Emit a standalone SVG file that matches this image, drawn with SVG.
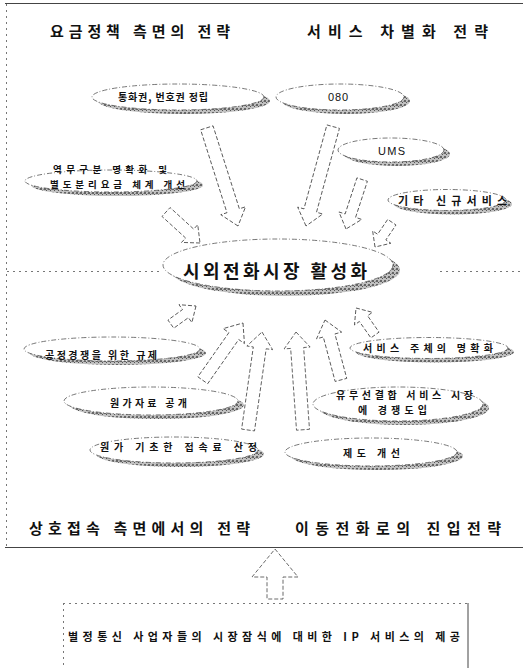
<svg xmlns="http://www.w3.org/2000/svg" width="523" height="668" viewBox="0 0 523 668">
<style>
.bg{fill:#fff}
.sh{fill:url(#hatch)}
.el{fill:#fff;stroke:#555;stroke-width:0.8;stroke-dasharray:5 2 1 2}
.t{font-family:"Noto Sans CJK KR","Noto Sans",sans-serif;font-weight:bold;fill:#111}
.ti{font-size:15px}
.s{font-size:10px}
.m{font-size:18px}
.lat{font-family:"Liberation Sans",Arial,sans-serif;font-weight:normal;font-size:11px;fill:#111}
.ar{fill:#fff;stroke:#444;stroke-width:0.8;stroke-dasharray:4 2}
.fr{fill:none;stroke:#444;stroke-width:1}
.dot{fill:none;stroke:#777;stroke-width:1;stroke-dasharray:2 4}
</style>
<defs>
<pattern id="hatch" width="4" height="4" patternUnits="userSpaceOnUse">
<rect width="4" height="4" fill="#c0c0c0"/>
<rect width="2" height="2" fill="#666"/>
<rect x="2" y="2" width="1" height="1" fill="#555"/>
<rect x="3" y="1" width="1" height="1" fill="#999"/>
</pattern>
</defs>
<rect class="bg" width="523" height="668"/>

<g id="frame">
<line class="fr" x1="5" y1="3.5" x2="523" y2="3.5"/>
<line class="dot" x1="6.5" y1="4" x2="6.5" y2="547"/>
<line class="fr" x1="5" y1="547.5" x2="523" y2="547.5"/>
<line class="dot" x1="7" y1="271.5" x2="163" y2="271.5"/>
<line class="dot" x1="440" y1="271.5" x2="520" y2="271.5"/>
</g>

<g id="titles">
<text class="t ti" x="50" y="37" textLength="180" lengthAdjust="spacing">요금정책 측면의 전략</text>
<text class="t ti" x="307" y="37" textLength="181" lengthAdjust="spacing">서비스 차별화 전략</text>
<text class="t ti" x="29" y="534" textLength="221" lengthAdjust="spacing">상호접속 측면에서의 전략</text>
<text class="t ti" x="295" y="534" textLength="206" lengthAdjust="spacing">이동전화로의 진입전략</text>
</g>

<g id="node-tonghwagwon">
<ellipse class="sh" cx="184" cy="101" rx="86" ry="13"/>
<ellipse class="el" cx="178" cy="97" rx="86" ry="13"/>
<text class="t s" x="118" y="101" textLength="90" lengthAdjust="spacing">통화권, 번호권 정립</text>
</g>

<g id="node-080">
<ellipse class="sh" cx="346" cy="101" rx="64" ry="13"/>
<ellipse class="el" cx="340" cy="97" rx="64" ry="13"/>
<text class="lat" x="328" y="101" textLength="20" lengthAdjust="spacing">080</text>
</g>

<g id="node-yeokmu">
<ellipse class="sh" cx="117" cy="185" rx="86" ry="11"/>
<ellipse class="el" cx="111" cy="181" rx="86" ry="11"/>
<text class="t" font-size="9.5" x="53" y="173" textLength="114" lengthAdjust="spacing">역무구분 명확화 및</text>
<text class="t" font-size="9.5" x="50" y="187.5" textLength="135" lengthAdjust="spacing">별도분리요금 체계 개선</text>
</g>

<g id="node-ums">
<ellipse class="sh" cx="397" cy="154" rx="53" ry="12"/>
<ellipse class="el" cx="391" cy="150" rx="53" ry="12"/>
<text class="lat" x="378" y="155" textLength="27" lengthAdjust="spacing">UMS</text>
</g>

<g id="node-gita">
<ellipse class="sh" cx="453" cy="204" rx="59" ry="10.5"/>
<ellipse class="el" cx="447" cy="200" rx="59" ry="10.5"/>
<text class="t" font-size="11" x="398" y="205" textLength="109" lengthAdjust="spacing">기타 신규서비스</text>
</g>

<g id="node-center">
<ellipse class="sh" cx="285" cy="270" rx="115" ry="26"/>
<ellipse class="el" cx="278" cy="265" rx="115" ry="26"/>
<text class="t m" x="183" y="278" textLength="184" lengthAdjust="spacing">시외전화시장 활성화</text>
</g>

<g id="node-gongjeong">
<ellipse class="sh" cx="118" cy="353" rx="88" ry="12"/>
<ellipse class="el" cx="112" cy="349" rx="88" ry="12"/>
<text class="t s" x="45" y="359" textLength="112" lengthAdjust="spacing">공정경쟁을 위한 규제</text>
</g>

<g id="node-jucheui">
<ellipse class="sh" cx="435" cy="352" rx="79" ry="10.5"/>
<ellipse class="el" cx="429" cy="348" rx="79" ry="10.5"/>
<text class="t s" x="363" y="352" textLength="130" lengthAdjust="spacing">서비스 주체의 명확화</text>
</g>

<g id="node-wonga-jaryo">
<ellipse class="sh" cx="157" cy="405" rx="87" ry="14"/>
<ellipse class="el" cx="151" cy="401" rx="87" ry="14"/>
<text class="t s" x="110" y="407" textLength="77" lengthAdjust="spacing">원가자료 공개</text>
</g>

<g id="node-wonga-gicho">
<ellipse class="sh" cx="180" cy="454" rx="84" ry="13"/>
<ellipse class="el" cx="174" cy="450" rx="84" ry="13"/>
<text class="t s" x="100" y="451" textLength="157" lengthAdjust="spacing">원가 기초한 접속료 산정</text>
</g>

<g id="node-yumuseon">
<ellipse class="sh" cx="404" cy="408" rx="85" ry="17"/>
<ellipse class="el" cx="398" cy="404" rx="85" ry="17"/>
<text class="t s" x="336" y="399" textLength="137" lengthAdjust="spacing">유무선결합 서비스 시장</text>
<text class="t s" x="358" y="414" textLength="69" lengthAdjust="spacing">에 경쟁도입</text>
</g>

<g id="node-jedo">
<ellipse class="sh" cx="377" cy="456" rx="86" ry="14"/>
<ellipse class="el" cx="371" cy="452" rx="86" ry="14"/>
<text class="t s" x="343" y="457" textLength="57" lengthAdjust="spacing">제도 개선</text>
</g>

<g id="node-ip">
<line class="dot" x1="63.5" y1="603" x2="63.5" y2="668"/>
<line class="dot" x1="63" y1="603.5" x2="468" y2="603.5"/>
<line class="fr" x1="468" y1="603" x2="468" y2="668"/>
<text class="t" font-size="11" x="68" y="641" textLength="392" lengthAdjust="spacing">별정통신 사업자들의 시장잠식에 대비한 IP 서비스의 제공</text>
</g>

<g id="connectors">
<path class="ar" transform="translate(238,226) rotate(162.4)" d="M0,0 L13,16 L6.5,16 L6.5,103 L-6.5,103 L-6.5,16 L-13,16 Z"/>
<path class="ar" transform="translate(306,226) rotate(-164.7)" d="M0,0 L13,16 L6.5,16 L6.5,103 L-6.5,103 L-6.5,16 L-13,16 Z"/>
<path class="ar" transform="translate(346,229) rotate(-161.9)" d="M0,0 L12,14 L5.5,14 L5.5,52 L-5.5,52 L-5.5,14 L-12,14 Z"/>
<path class="ar" transform="translate(375,247) rotate(-145.8)" d="M0,0 L11,12 L5,12 L5,30 L-5,30 L-5,12 L-11,12 Z"/>
<path class="ar" transform="translate(200,243) rotate(132.4)" d="M0,0 L12,14 L6,14 L6,46 L-6,46 L-6,14 L-12,14 Z"/>
<path class="ar" transform="translate(196,306) rotate(54.2)" d="M0,0 L11,13 L5,13 L5,31 L-5,31 L-5,13 L-11,13 Z"/>
<path class="ar" transform="translate(243,323) rotate(35.1)" d="M0,0 L13,16 L6,16 L6,70 L-6,70 L-6,16 L-13,16 Z"/>
<path class="ar" transform="translate(262,332) rotate(8.1)" d="M0,0 L13,16 L6.5,16 L6.5,99 L-6.5,99 L-6.5,16 L-13,16 Z"/>
<path class="ar" transform="translate(296,332) rotate(-4.1)" d="M0,0 L13,16 L6.5,16 L6.5,98 L-6.5,98 L-6.5,16 L-13,16 Z"/>
<path class="ar" transform="translate(325,320) rotate(-14.9)" d="M0,0 L13,16 L6,16 L6,62 L-6,62 L-6,16 L-13,16 Z"/>
<path class="ar" transform="translate(356,308) rotate(-35.1)" d="M0,0 L11,13 L5,13 L5,33 L-5,33 L-5,13 L-11,13 Z"/>
<path class="ar" transform="translate(275,549)" d="M0,0 L23,28 L8,28 L8,50 L-8,50 L-8,28 L-23,28 Z"/>
</g>
</svg>
